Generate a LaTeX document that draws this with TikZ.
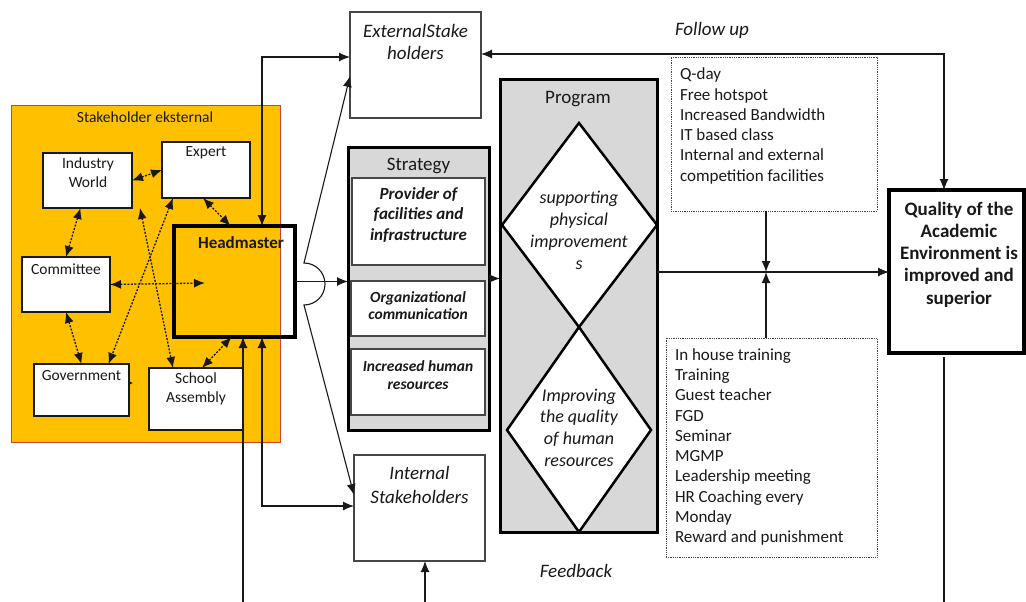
\documentclass[tikz,border=0pt]{standalone}
\usepackage{fontspec}
\setmainfont{Carlito}
\usetikzlibrary{arrows.meta}
\definecolor{gold}{RGB}{255,192,0}
\definecolor{rim}{RGB}{200,70,50}
\definecolor{panel}{RGB}{216,216,216}
\definecolor{ink}{RGB}{25,25,25}
\definecolor{soft}{RGB}{70,70,70}
\begin{document}
\begin{tikzpicture}[x=1pt,y=-1pt,
  every node/.style={inner sep=0pt,outer sep=0pt,text=ink},
  sm/.style={font=\fontsize{15.5}{19}\selectfont, align=center},
  lst/.style={font=\fontsize{17}{20.3}\selectfont, align=left, anchor=west},
  ttl/.style={font=\fontsize{19}{22}\selectfont, align=center},
  wbox/.style={draw=ink, line width=1.3pt, fill=white},
  gbox/.style={draw=soft, line width=1.2pt, fill=white},
  heavy/.style={draw=black, line width=#1},
  dotbox/.style={draw=soft, densely dotted, line width=0.8pt},
  tip/.style={-{Latex[length=11pt,width=9pt]}},
  tips/.style={{Latex[length=11pt,width=9pt]}-{Latex[length=11pt,width=9pt]}},
  link/.style={draw=ink, line width=1.1pt},
  dots/.style={draw=ink, line width=1.3pt, dash pattern=on 2pt off 1.5pt,
    {Latex[length=11pt,width=9pt]}-{Latex[length=11pt,width=9pt]}},
]
\useasboundingbox (0,0) rectangle (1026,602);

% ---------- external stakeholder area ----------
\node[fill=gold, draw=rim, line width=0.9pt, minimum width=269pt, minimum height=337pt] (area) at (145.5,273.5) {};
\node[sm] (area-t) at (145,117) {Stakeholder eksternal};

\node[wbox, minimum width=89pt, minimum height=55pt] (iw) at (87.5,180.5) {};
\node[sm] (iw-t) at (88,172.5) {Industry\\World};
\node[wbox, minimum width=88pt, minimum height=56pt] (ex) at (206,170) {};
\node[sm] (ex-t) at (206,153) {Expert};
\node[wbox, minimum width=88pt, minimum height=55pt] (com) at (66,284.5) {};
\node[sm] (com-t) at (66,269) {Committee};
\node[wbox, minimum width=95pt, minimum height=52pt] (gov) at (81.5,390) {};
\node[sm] (gov-t) at (81.5,376) {Government};
\node[wbox, minimum width=94pt, minimum height=62pt] (sa) at (196,399) {};
\node[sm] (sa-t) at (196,389) {School\\Assembly};

% headmaster (frame only, the gold shows through)
\node[heavy=4pt, minimum width=121pt, minimum height=111pt] (hm) at (234.5,281.5) {};
\node[font=\fontsize{17}{20}\selectfont\bfseries] (hm-t) at (241,243) {Headmaster};
\coordinate (hmIn) at (205,283);

% dotted relations between the stakeholders
\draw[dots] (iw.east) -- (ex.west);
\draw[dots] ([xshift=-3pt]ex.south) -- ([xshift=-4pt]hm.north);
\draw[dots] ([xshift=-7pt]iw.south) -- (com.north);
\draw[dots] (com.east) -- (hmIn);
\draw[dots] (com.south) -- (gov.north);
\draw[dots] ([xshift=8pt]iw.south east) -- ([xshift=-23pt]sa.north);
\draw[dots] ([xshift=11pt]ex.south west) -- ([xshift=27pt]gov.north);
\draw[dots] ([xshift=6pt]sa.north) -- ([xshift=-3pt]hm.south);
\draw[draw=ink, line width=1.2pt, densely dotted, -{Latex[length=4pt,width=4pt]}] ([yshift=7pt]gov.east) -- ++(4,0);

% ---------- stakeholder boxes ----------
\node[gbox, minimum width=131pt, minimum height=106pt] (ext) at (415.5,65) {};
\node[ttl, font=\fontsize{19}{22}\selectfont\itshape] (ext-t) at (415.5,42) {ExternalStake\\holders};
\node[gbox, minimum width=131pt, minimum height=106pt] (int) at (419.5,508) {};
\node[ttl, font=\fontsize{19}{24}\selectfont\itshape] (int-t) at (419.5,485) {Internal\\Stakeholders};

% ---------- strategy ----------
\node[fill=panel, heavy=3pt, minimum width=141pt, minimum height=283pt] (str) at (418.5,288.5) {};
\node[ttl] (str-t) at (418.5,166) {Strategy};
\node[gbox, minimum width=133pt, minimum height=87pt] (s1) at (418.5,221.5) {};
\node[font=\fontsize{17}{20.5}\selectfont\bfseries\itshape, align=center] (s1-t) at (418.5,215) {Provider of\\facilities and\\infrastructure};
\node[gbox, minimum width=134pt, minimum height=55pt] (s2) at (418,308.5) {};
\node[font=\fontsize{15.5}{17.5}\selectfont\bfseries\itshape, align=center] (s2-t) at (418,305.5) {Organizational\\communication};
\node[gbox, minimum width=134pt, minimum height=66pt] (s3) at (418,382) {};
\node[font=\fontsize{15.5}{18}\selectfont\bfseries\itshape, align=center] (s3-t) at (418,375) {Increased human\\resources};

% ---------- program ----------
\node[fill=panel, heavy=3pt, minimum width=157pt, minimum height=452pt] (prog) at (578.5,306) {};
\node[ttl] (prog-t) at (578,99) {Program};
\draw[heavy=2.5pt, fill=white, line join=miter] (579,123) -- (657,225) -- (579,327) -- (502,225) -- cycle;
\draw[heavy=2.5pt, fill=white, line join=miter] (579,327) -- (651,430) -- (579,532) -- (507,430) -- cycle;
\node[font=\fontsize{18}{22}\selectfont\itshape, align=center] (p1) at (579,230) {supporting\\physical\\improvement\\s};
\node[font=\fontsize{18}{21.7}\selectfont\itshape, align=center] (p2) at (579,427.5) {Improving\\the quality\\of human\\resources};

% ---------- activity lists ----------
\node[dotbox, minimum width=206pt, minimum height=154pt] (top) at (774,134) {};
\node[lst] (top-t) at (680,126) {Q-day\\Free hotspot\\Increased Bandwidth\\IT based class\\Internal and external\\competition facilities};
\node[dotbox, minimum width=211pt, minimum height=219pt] (bot) at (771.5,447.5) {};
\node[lst] (bot-t) at (675,447) {In house training\\Training\\Guest teacher\\FGD\\Seminar\\MGMP\\Leadership meeting\\HR Coaching every\\Monday\\Reward and punishment};

% ---------- outcome ----------
\node[heavy=3.5pt, fill=white, minimum width=135pt, minimum height=163pt] (qual) at (956.5,271.5) {};
\node[font=\fontsize{19}{22.3}\selectfont\bfseries, align=center] (qual-t) at (959,254.5) {Quality of the\\Academic\\Environment is\\improved and\\superior};

\node[font=\fontsize{19}{22}\selectfont\itshape] (fu) at (712,30) {Follow up};
\node[font=\fontsize{19}{22}\selectfont\itshape] (fb) at (576,571) {Feedback};

% ---------- connectors ----------
\coordinate (xa) at (262,0);
\coordinate (xq) at (944,0);
\coordinate (jn) at (766,272);
\coordinate (hopT) at (304,263);
\coordinate (fbL) at (243,602);
\coordinate (fbM) at (425,602);
\coordinate (fbR) at (944,602);

\draw[link, tips] (hm.north -| xa) |- ([yshift=8pt]ext.west);
\draw[link, tips] ([yshift=11pt]ext.east) -| (qual.north -| xq);
\draw[link, tip] (hm.east) -- (hm.east -| str.west);
\draw[link, tips] ([yshift=-11pt]ext.west) -- (hopT) arc[start angle=90, end angle=-90, radius=21pt] -- ([yshift=13pt]int.west);
\draw[link, tips] (hm.south -| xa) |- ([yshift=2pt]int.west);
\draw[link, tip] (fbL) -- (fbL |- hm.south);
\draw[link, tip] (fbM) -- (fbM |- int.south);
\draw[link] ([yshift=-4pt]qual.south -| fbR) -- (fbR);
\draw[link, tip] ([yshift=10pt]str.east) -- ([yshift=10pt]str.east -| prog.west);
\draw[link, tip] (prog.east |- jn) -- (jn -| qual.west);
\draw[link, tip] (jn |- top.south) -- (jn);
\draw[link, tip] (jn |- bot.north) -- (jn);
\end{tikzpicture}
\end{document}
